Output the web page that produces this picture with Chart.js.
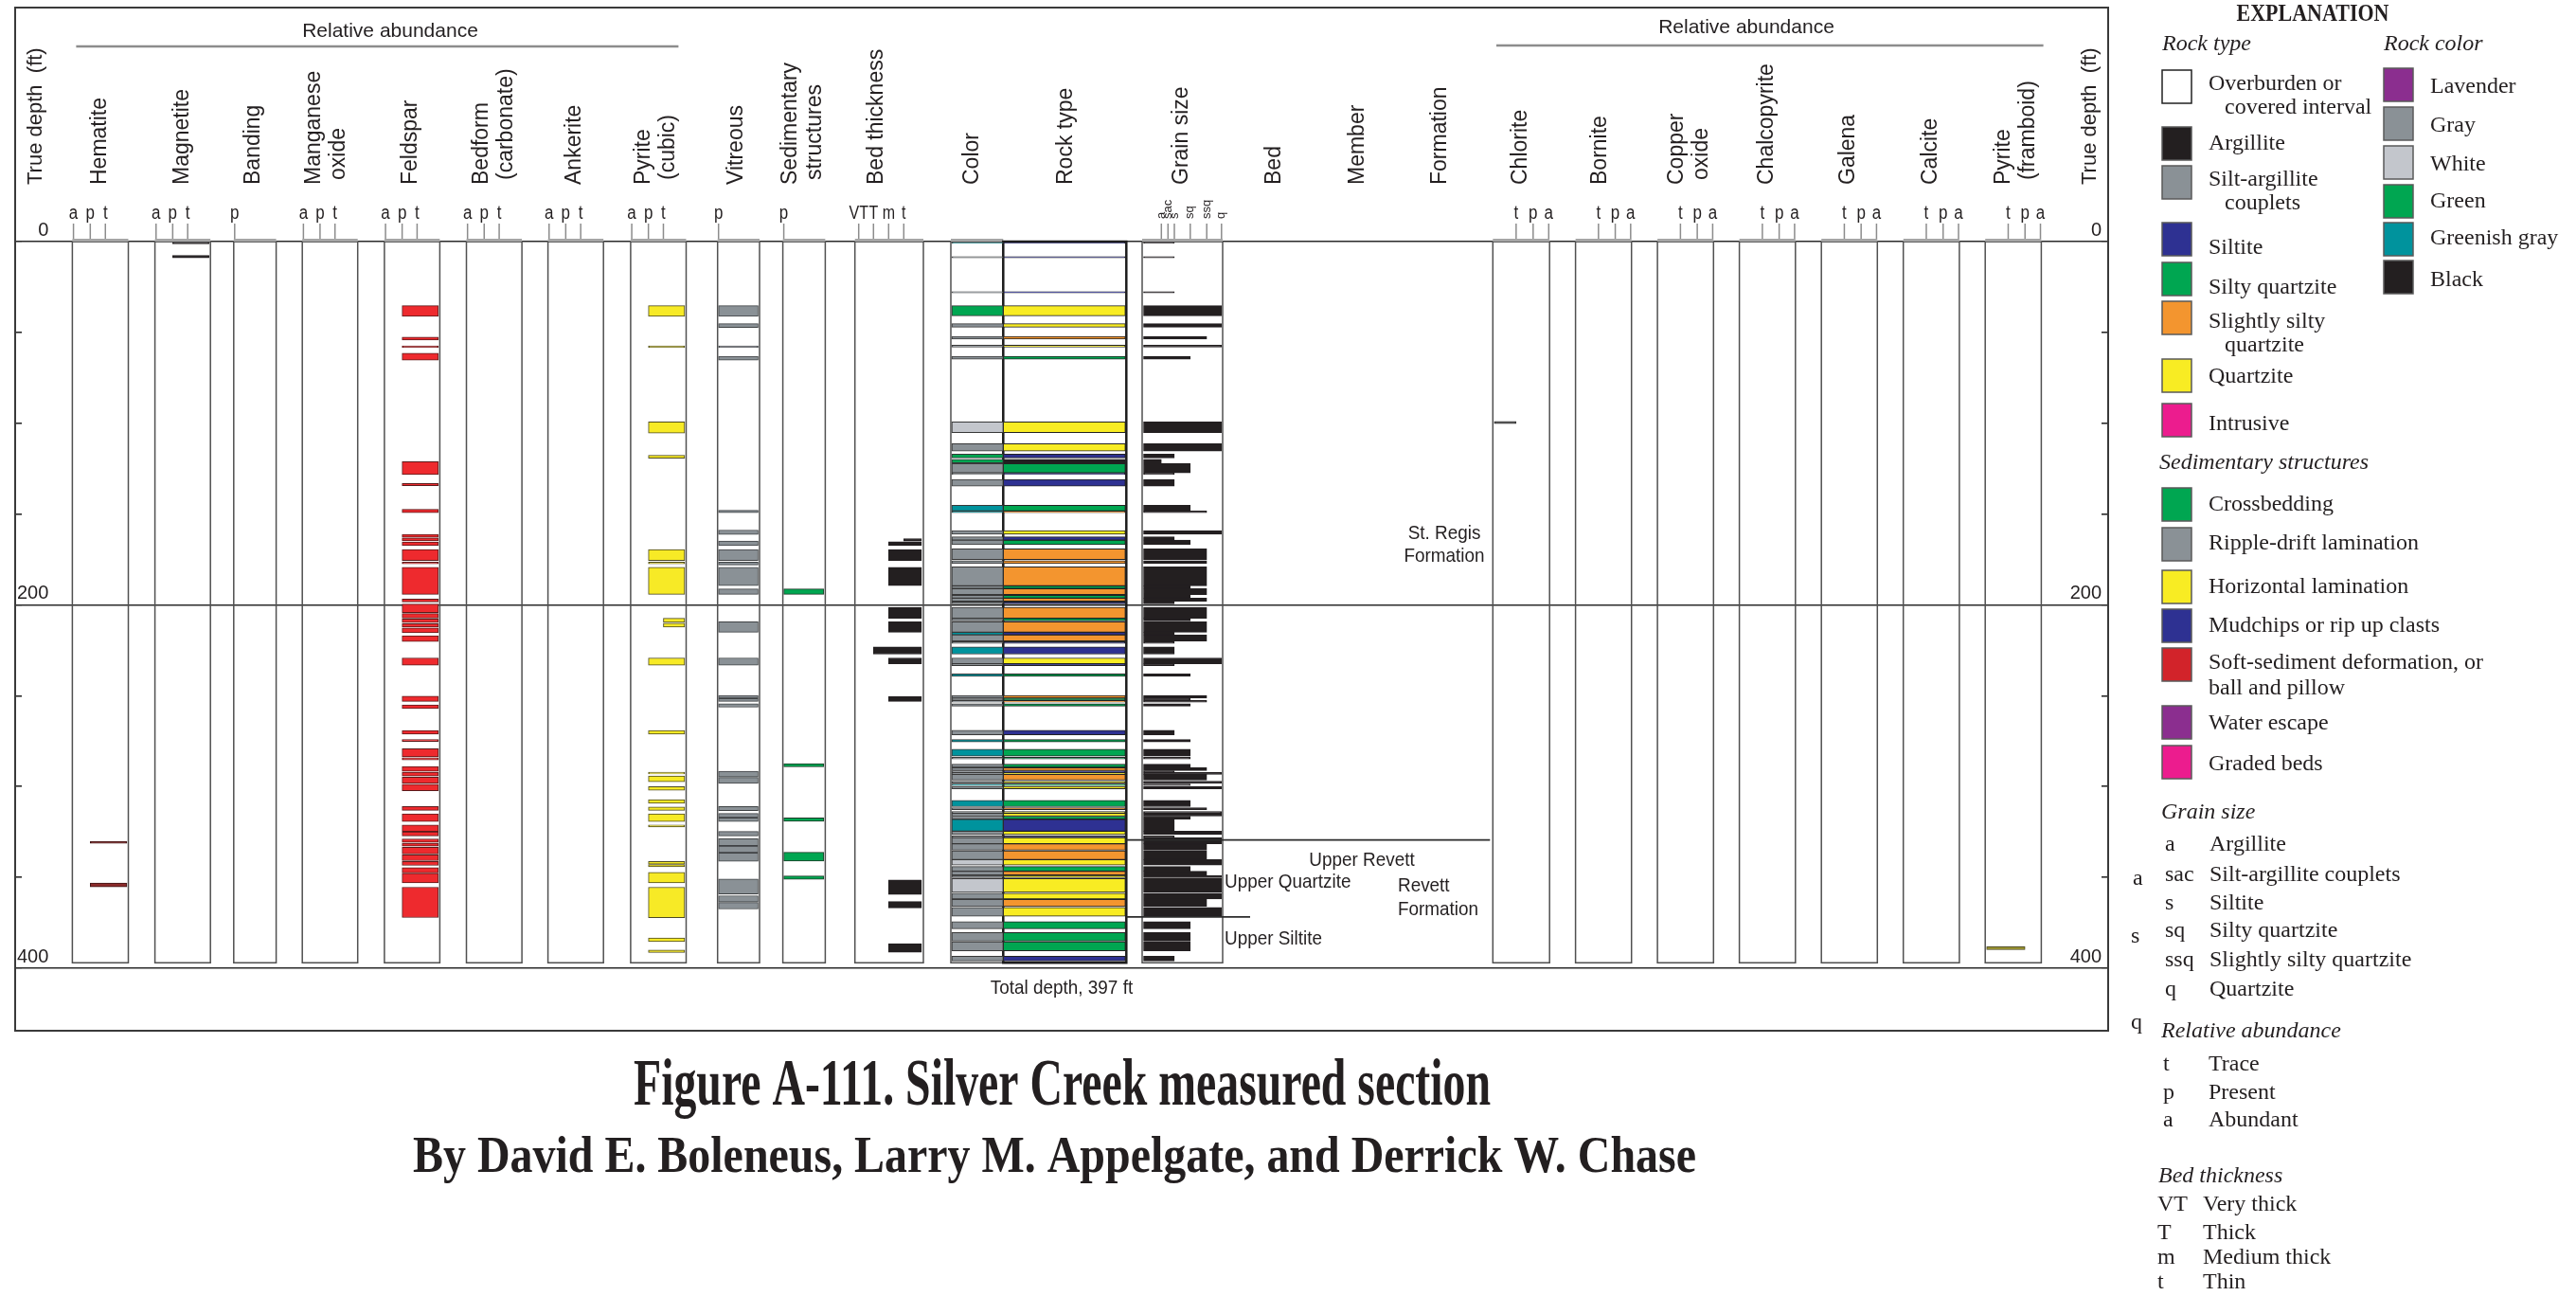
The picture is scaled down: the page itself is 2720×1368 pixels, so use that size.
<!DOCTYPE html>
<html lang="en">
<head>
<meta charset="utf-8">
<title>Figure A-111. Silver Creek measured section</title>
<script src="https://cdn.jsdelivr.net/npm/chart.js@4.4.1/dist/chart.umd.min.js"></script>
<style>
  html, body { margin: 0; background: #ffffff; }
  canvas { display: block; }
</style>
</head>
<body>
<canvas id="section" width="2720" height="1368"></canvas>
<script>
// ---------- data: depths in ft below the top of the section ----------
const depthTicks = [0, 50, 100, 150, 200, 250, 300, 350, 400];
const depthLabels = [0, 200, 400];
const totalDepth = 397;

// relative abundance intervals: [top, base, level]
const hematite = [[330.1, 331.3, 'p'], [353.1, 355.2, 'p']];
const magnetite = [[0.0, 1.3, 'p'], [7.6, 8.9, 'p']];
const feldspar = [
  [35.3, 41.2, 'p'], [52.6, 54.2, 'p'], [57.4, 58.4, 'p'], [61.4, 65.3, 'p'], [121.1, 128.3, 'p'],
  [133.1, 134.4, 'p'], [147.4, 149.3, 'p'], [161.2, 162.8, 'p'], [163.2, 164.7, 'p'], [165.3, 167.3, 'p'],
  [169.5, 175.6, 'p'], [176.4, 177.4, 'p'], [179.3, 194.2, 'p'], [196.8, 198.4, 'p'], [199.5, 204.3, 'p'],
  [204.8, 207.2, 'p'], [207.7, 209.8, 'p'], [210.3, 212.2, 'p'], [212.7, 215.4, 'p'], [217.0, 220.2, 'p'],
  [229.2, 233.2, 'p'], [250.2, 253.1, 'p'], [255.0, 257.1, 'p'], [269.1, 271.2, 'p'], [274.1, 275.2, 'p'],
  [279.2, 283.7, 'p'], [284.2, 285.3, 'p'], [289.0, 291.6, 'p'], [292.1, 294.2, 'p'], [294.8, 298.2, 'p'],
  [298.8, 302.3, 'p'], [311.0, 313.1, 'p'], [315.0, 319.3, 'p'], [321.1, 324.7, 'p'], [325.0, 327.2, 'p'],
  [328.8, 330.7, 'p'], [331.2, 332.8, 'p'], [333.4, 337.1, 'p'], [337.6, 340.8, 'p'], [341.3, 343.4, 'p'],
  [344.6, 347.5, 'p'], [347.8, 353.0, 'p'], [355.4, 372.1, 'p']
];
const pyriteCubic = [
  [35.3, 41.2, 'p'], [57.4, 58.4, 'p'], [99.3, 105.4, 'p'], [117.7, 119.3, 'p'], [169.5, 175.6, 'p'],
  [176.4, 177.4, 'p'], [179.3, 194.2, 'p'], [207.4, 209.6, 't'], [210.1, 212.2, 't'], [229.2, 233.2, 'p'],
  [269.1, 271.2, 'p'], [292.1, 293.1, 'p'], [294.2, 297.4, 'p'], [300.0, 302.1, 'p'], [307.2, 309.2, 'p'],
  [311.3, 313.1, 'p'], [315.0, 319.2, 'p'], [321.1, 322.2, 'p'], [341.3, 342.7, 'p'], [342.9, 344.2, 'p'],
  [347.3, 353.0, 'p'], [355.4, 372.2, 'p'], [383.3, 385.3, 'p'], [390.0, 391.3, 'p']
];
const vitreous = [
  [35.3, 41.2, 'p'], [45.2, 47.3, 'p'], [57.4, 58.4, 'p'], [63.2, 65.3, 'p'], [147.9, 149.3, 'p'],
  [158.8, 161.2, 'p'], [164.9, 167.3, 'p'], [169.5, 175.6, 'p'], [176.4, 178.0, 'p'], [179.3, 189.4, 'p'],
  [191.2, 194.2, 'p'], [209.3, 215.1, 'p'], [229.2, 233.2, 'p'], [249.9, 251.3, 'p'], [251.6, 253.1, 'p'],
  [254.4, 256.3, 'p'], [291.6, 294.8, 'p'], [295.0, 298.2, 'p'], [311.0, 313.2, 'p'], [314.8, 317.0, 'p'],
  [317.2, 319.2, 'p'], [324.7, 327.2, 'p'], [328.7, 332.5, 'p'], [332.8, 336.3, 'p'], [336.6, 341.2, 'p'],
  [350.9, 359.2, 'p'], [360.1, 363.6, 'p'], [363.8, 367.4, 'p']
];
const sedStructures = [[191.2, 194.2, 'p'], [287.4, 289.1, 'p'], [317.2, 319.1, 'p'], [336.2, 341.0, 'p'], [349.2, 351.1, 'p']];
const chlorite = [[99.0, 100.2, 't']];
const pyriteFramboid = [[388.2, 389.8, 'p']];

// bed thickness: [top, base, class]
const bedThickness = [
  [163.6, 164.9, 't'], [165.2, 167.3, 'm'], [169.5, 175.6, 'm'], [179.3, 189.4, 'm'], [201.3, 207.4, 'm'],
  [209.3, 215.1, 'm'], [223.1, 227.1, 'T'], [229.2, 232.4, 'm'], [250.5, 253.1, 'm'], [351.4, 359.4, 'm'],
  [363.3, 366.8, 'm'], [386.5, 391.2, 'm']
];

// described beds: color, rock type and grain size share the same intervals
const bedTop = [
  0.0, 8.2, 27.5, 35.3, 45.2, 52.2, 57.0, 63.1, 99.3, 111.3, 117.0, 119.9, 122.2, 127.4, 130.9, 145.2,
  148.3, 159.1, 162.5, 164.3, 169.1, 175.6, 179.1, 189.5, 191.0, 194.7, 196.3, 198.3, 201.3, 207.4, 209.3,
  215.1, 216.5, 220.3, 223.1, 229.2, 232.4, 238.0, 249.9, 251.3, 252.6, 254.4, 269.0, 274.1, 279.5, 283.9,
  287.7, 289.6, 291.3, 292.2, 293.3, 297.0, 298.6, 299.9, 307.6, 311.6, 313.7, 314.6, 316.3, 318.0, 324.6,
  327.2, 328.1, 331.5, 335.4, 340.2, 344.0, 346.6, 348.9, 350.6, 358.7, 362.1, 366.5, 374.3, 380.3, 385.5, 393.4
];
const bedBase = [
  0.9, 9.0, 28.2, 40.9, 47.1, 53.7, 58.1, 64.8, 105.2, 115.3, 119.1, 121.9, 127.4, 128.3, 134.7, 148.3,
  149.3, 161.1, 164.3, 166.9, 175.0, 177.3, 189.5, 191.0, 194.3, 196.3, 198.0, 199.5, 207.4, 208.8, 215.1,
  216.5, 219.9, 221.2, 227.1, 232.4, 233.5, 239.3, 251.3, 252.5, 253.6, 255.8, 271.5, 275.5, 283.3, 284.8,
  289.4, 291.2, 292.2, 293.3, 296.4, 298.1, 299.5, 301.3, 311.1, 312.8, 314.5, 316.3, 318.0, 324.6, 326.4,
  328.1, 331.5, 335.0, 340.2, 343.2, 346.6, 348.7, 350.1, 358.2, 361.9, 366.1, 371.4, 378.3, 385.1, 390.4, 396.0
];
const bedColor = [
  'gg', 'gray', 'gray', 'green', 'gray', 'gray', 'gray', 'gray', 'white', 'gray', 'green', 'green', 'gray', 'gray', 'gray', 'gg',
  'gg', 'gray', 'gray', 'gray', 'gray', 'gray', 'gray', 'gray', 'gray', 'gray', 'gray', 'gray', 'gray', 'gray', 'gray',
  'gg', 'gray', 'gray', 'gg', 'gray', 'gray', 'gg', 'gray', 'gray', 'gray', 'gray', 'gray', 'gg', 'gg', 'gray',
  'gray', 'gray', 'gray', 'gray', 'gray', 'gray', 'gg', 'gray', 'gg', 'gray', 'gray', 'gray', 'gray', 'gg', 'gray',
  'gray', 'gray', 'gray', 'gray', 'white', 'gray', 'gray', 'gray', 'white', 'gray', 'gray', 'gray', 'gray', 'gray', 'gray', 'gray'
];
const bedRock = [
  'S', 'S', 'S', 'Q', 'Q', 'SSQ', 'Q', 'SQ', 'Q', 'Q', 'S', 'A', 'SQ', 'S', 'S', 'SQ',
  'SSQ', 'Q', 'S', 'SQ', 'SSQ', 'SSQ', 'SSQ', 'SQ', 'SSQ', 'SQ', 'SSQ', 'S', 'SSQ', 'SQ', 'SSQ',
  'S', 'SSQ', 'S', 'S', 'Q', 'S', 'SQ', 'SSQ', 'SQ', 'SSQ', 'SQ', 'S', 'SQ', 'SQ', 'SQ',
  'SQ', 'SSQ', 'S', 'Q', 'SSQ', 'Q', 'SQ', 'Q', 'SQ', 'SSQ', 'Q', 'Q', 'SQ', 'S', 'Q',
  'S', 'Q', 'SSQ', 'SSQ', 'Q', 'SQ', 'SSQ', 'Q', 'Q', 'Q', 'SSQ', 'Q', 'SQ', 'SQ', 'SQ', 'S'
];
const bedGrain = [
  's', 's', 's', 'q', 'q', 'ssq', 'q', 'sq', 'q', 'q', 's', 'a', 'sq', 's', 's', 'sq',
  'ssq', 'q', 's', 'sq', 'ssq', 'ssq', 'ssq', 'sq', 'ssq', 'sq', 'ssq', 's', 'ssq', 'sq', 'ssq',
  's', 'ssq', 's', 's', 'q', 's', 'sq', 'ssq', 'sq', 'ssq', 'sq', 's', 'sq', 'sq', 'sq',
  'sq', 'ssq', 's', 'q', 'ssq', 'q', 'sq', 'q', 'sq', 'ssq', 'q', 'q', 'sq', 's', 'q',
  's', 'q', 'ssq', 'ssq', 'q', 'sq', 'ssq', 'q', 'q', 'q', 'ssq', 'q', 'sq', 'sq', 'sq', 's'
];

// member boundaries (ft): top of Upper Revett, base of Upper Quartzite
const memberBounds = [329.4, 371.8];

// explanation entries
const rockTypeKeys = ['none', 'A', 'SAC', 'S', 'SQ', 'SSQ', 'Q', 'I'];
const rockTypeNames = [['Overburden or', 'covered interval'], ['Argillite'], ['Silt-argillite', 'couplets'], ['Siltite'],
  ['Silty quartzite'], ['Slightly silty', 'quartzite'], ['Quartzite'], ['Intrusive']];
const rockColorKeys = ['lavender', 'gray', 'white', 'green', 'gg', 'black'];
const rockColorNames = ['Lavender', 'Gray', 'White', 'Green', 'Greenish gray', 'Black'];
const structureNames = [['Crossbedding'], ['Ripple-drift lamination'], ['Horizontal lamination'], ['Mudchips or rip up clasts'],
  ['Soft-sediment deformation, or', 'ball and pillow'], ['Water escape'], ['Graded beds']];
const structureFills = ['#00a651', '#8a9196', '#f8ec23', '#2e3192', '#d2232a', '#8b2e8f', '#ec1c8e'];
const grainCodes = ['a', 'sac', 's', 'sq', 'ssq', 'q'];
const grainNames = ['Argillite', 'Silt-argillite couplets', 'Siltite', 'Silty quartzite', 'Slightly silty quartzite', 'Quartzite'];
const abundanceCodes = ['t', 'p', 'a'];
const abundanceNames = ['Trace', 'Present', 'Abundant'];
const thicknessCodes = ['VT', 'T', 'm', 't'];
const thicknessNames = ['Very thick', 'Thick', 'Medium thick', 'Thin'];

// ---------- styling / layout ----------
const INK = '#231f20';
const SANS = '"Liberation Sans", Arial, Helvetica, sans-serif';
const SERIF = '"Liberation Serif", "Times New Roman", Times, serif';
const COLOR_FILL = { lavender: '#8b2e8f', gray: '#8a9196', white: '#c3c6cc', green: '#00a651', gg: '#00939d', black: '#231f20' };
const ROCK_FILL = { none: '#ffffff', A: '#231f20', SAC: '#8a9196', S: '#2e3192', SQ: '#00a651', SSQ: '#f3952f', Q: '#f8ec23', I: '#ec1c8e' };

// the x scale runs in canvas pixels, the y scale in feet
const PX_TOP = 255, PX_PER_FT = 1.9175;
const AREA = { left: 23, right: 2219, top: 30, bottom: 1060 };
const FRAME = { left: 16, top: 8, right: 2226, bottom: 1088 };

const LEFT_TRACKS = [
  { key: 'hematite', name: ['Hematite'], l: 76.4, r: 135.5, ticks: 'apt', lx: 105.6 },
  { key: 'magnetite', name: ['Magnetite'], l: 163.6, r: 222.2, ticks: 'apt', lx: 192.3 },
  { key: 'banding', name: ['Banding'], l: 246.8, r: 291.6, ticks: 'p', lx: 268 },
  { key: 'mnOxide', name: ['Manganese', 'oxide'], l: 319.2, r: 377.7, ticks: 'apt', lx: 345 },
  { key: 'feldspar', name: ['Feldspar'], l: 405.9, r: 464.4, ticks: 'apt', lx: 434 },
  { key: 'bedform', name: ['Bedform', '(carbonate)'], l: 492.5, r: 551.1, ticks: 'apt', lx: 522 },
  { key: 'ankerite', name: ['Ankerite'], l: 578.6, r: 637.2, ticks: 'apt', lx: 607 },
  { key: 'pyriteCubic', name: ['Pyrite', '(cubic)'], l: 665.9, r: 724.5, ticks: 'apt', lx: 693 },
  { key: 'vitreous', name: ['Vitreous'], l: 757.7, r: 802, ticks: 'p', lx: 778 },
  { key: 'sedStructures', name: ['Sedimentary', 'structures'], l: 826.6, r: 871.4, ticks: 'p', lx: 848 }
];
const RIGHT_TRACKS = [
  { key: 'chlorite', name: ['Chlorite'], l: 1576.3, r: 1636.2, ticks: 'tpa', lx: 1606 },
  { key: 'bornite', name: ['Bornite'], l: 1663.6, r: 1722.7, ticks: 'tpa', lx: 1690 },
  { key: 'copperOxide', name: ['Copper', 'oxide'], l: 1750.1, r: 1809.3, ticks: 'tpa', lx: 1783.5 },
  { key: 'chalcopyrite', name: ['Chalcopyrite'], l: 1836.6, r: 1895.8, ticks: 'tpa', lx: 1866 },
  { key: 'galena', name: ['Galena'], l: 1923.2, r: 1982.3, ticks: 'tpa', lx: 1952 },
  { key: 'calcite', name: ['Calcite'], l: 2009.7, r: 2068.9, ticks: 'tpa', lx: 2039 },
  { key: 'pyriteFramboid', name: ['Pyrite', '(framboid)'], l: 2096.2, r: 2155.4, ticks: 'tpa', lx: 2128.5 }
];
LEFT_TRACKS.forEach(t => { t.side = 'left'; });
RIGHT_TRACKS.forEach(t => { t.side = 'right'; });

const BED_THICK = { name: ['Bed thickness'], l: 902.7, r: 975, lx: 925.5, tick: { VT: 906.7, T: 922.3, m: 938.3, t: 954.3 } };
const COLOR_COL = { name: ['Color'], l: 1004, r: 1059.3, lx: 1027 };
const ROCK_COL = { name: ['Rock type'], l: 1059.3, r: 1189.3, lx: 1126 };
const GRAIN_COL = { name: ['Grain size'], l: 1206, r: 1291, lx: 1248,
  tick: { a: 1226.3, sac: 1233.3, s: 1240, sq: 1256.8, ssq: 1274.2, q: 1289.8 } };
const TEXT_COLS = [{ name: ['Bed'], lx: 1346 }, { name: ['Member'], lx: 1434 }, { name: ['Formation'], lx: 1521 }];

const LEFT_FRAC = { a: 0.02, p: 0.32, t: 0.59 };
const RIGHT_FRAC = { t: 0.41, p: 0.71, a: 0.985 };
function tickX(t, lvl) {
  if (t.ticks === 'p') return t.l + 1;
  const f = t.side === 'right' ? RIGHT_FRAC : LEFT_FRAC;
  return t.l + f[lvl] * (t.r - t.l);
}

// ---------- datasets ----------
const datasets = [];
function addBars(label, rows, x0, x1, fill, edge) {
  if (!rows.length) return;
  datasets.push({
    type: 'bar',
    label,
    data: rows.map(r => ({ x: (x0 + x1) / 2, y: [r[0], r[1]] })),
    barThickness: x1 - x0,
    backgroundColor: fill,
    borderColor: edge,
    borderWidth: 1,
    borderSkipped: false,
    stack: 'log',
    order: 2
  });
}
function addAbundance(key, rows, fill, edge) {
  const t = LEFT_TRACKS.concat(RIGHT_TRACKS).find(k => k.key === key);
  for (const lvl of ['a', 'p', 't']) {
    const sel = rows.filter(r => r[2] === lvl);
    const tx = tickX(t, lvl);
    if (t.side === 'left') addBars(key + ' ' + lvl, sel, tx, t.r - 1.5, fill, edge);
    else addBars(key + ' ' + lvl, sel, t.l + 1.5, tx, fill, edge);
  }
}

addAbundance('hematite', hematite, '#8c2b2b', '#3d1414');
addAbundance('magnetite', magnetite, INK, INK);
addAbundance('feldspar', feldspar, '#ee2a2e', '#5b1a1a');
addAbundance('pyriteCubic', pyriteCubic, '#f7ea26', '#4d4a22');
addAbundance('vitreous', vitreous, '#8a9196', '#3f4244');
addAbundance('sedStructures', sedStructures, '#00a651', '#1f3a28');
addAbundance('chlorite', chlorite, '#3a3a3a', '#3a3a3a');
addAbundance('pyriteFramboid', pyriteFramboid, '#a39c35', '#4d4a22');

for (const cls of ['VT', 'T', 'm', 't']) {
  addBars('bed thickness ' + cls, bedThickness.filter(r => r[2] === cls), BED_THICK.tick[cls], BED_THICK.r - 2, INK, INK);
}

const bedRows = bedTop.map((top, i) => [top, bedBase[i]]);
for (const c of Object.keys(COLOR_FILL)) {
  addBars('color ' + c, bedRows.filter((_, i) => bedColor[i] === c), COLOR_COL.l + 1, COLOR_COL.r, COLOR_FILL[c], '#383838');
}
for (const k of Object.keys(ROCK_FILL)) {
  addBars('rock ' + k, bedRows.filter((_, i) => bedRock[i] === k), ROCK_COL.l, ROCK_COL.r - 1, ROCK_FILL[k], '#222222');
}
for (const g of grainCodes) {
  addBars('grain ' + g, bedRows.filter((_, i) => bedGrain[i] === g), GRAIN_COL.l + 1.5, GRAIN_COL.tick[g], INK, INK);
}

// member boundary lines run from the rock column across the bed/member/formation columns
const boundEnds = [RIGHT_TRACKS[0].l - 3, 1320];
memberBounds.forEach((d, i) => {
  datasets.push({
    type: 'line',
    label: 'boundary ' + d,
    data: [{ x: ROCK_COL.r, y: d }, { x: boundEnds[i], y: d }],
    borderColor: '#2b2b2b',
    borderWidth: 1.8,
    pointRadius: 0,
    order: 1
  });
});

// ---------- drawing helpers ----------
function text(ctx, str, x, y, o = {}) {
  ctx.save();
  ctx.font = o.font || `22px ${SANS}`;
  ctx.fillStyle = o.color || INK;
  ctx.textAlign = o.align || 'left';
  ctx.textBaseline = o.baseline || 'alphabetic';
  ctx.translate(x, y);
  if (o.rotate) ctx.rotate(o.rotate);
  let sx = o.squeeze || 1;
  if (o.fit) sx = o.fit / ctx.measureText(str).width;
  ctx.scale(sx, 1);
  ctx.fillText(str, 0, 0);
  ctx.restore();
}
function hline(ctx, x0, x1, y, color, w) {
  ctx.save();
  ctx.strokeStyle = color; ctx.lineWidth = w;
  ctx.beginPath(); ctx.moveTo(x0, y); ctx.lineTo(x1, y); ctx.stroke();
  ctx.restore();
}
function swatch(ctx, x, y, fill, edge) {
  ctx.save();
  ctx.fillStyle = fill; ctx.fillRect(x, y, 31, 35);
  ctx.strokeStyle = edge || '#5a5a5a'; ctx.lineWidth = 1.5; ctx.strokeRect(x, y, 31, 35);
  ctx.restore();
}

// outlines of the log columns, drawn under the bars
const columnFrames = {
  id: 'columnFrames',
  beforeDatasetsDraw(chart) {
    const { ctx, scales: { x, y } } = chart;
    const y0 = y.getPixelForValue(0), y1 = y.getPixelForValue(totalDepth);
    const boxes = LEFT_TRACKS.concat(RIGHT_TRACKS, [BED_THICK, COLOR_COL, GRAIN_COL]);
    ctx.save();
    for (const b of boxes) {
      const l = x.getPixelForValue(b.l), r = x.getPixelForValue(b.r);
      ctx.strokeStyle = '#505050'; ctx.lineWidth = 1.5;
      ctx.strokeRect(l, y0, r - l, y1 - y0);
      ctx.fillStyle = '#a5a5a5'; ctx.fillRect(l, y0 - 3, r - l, 3);
    }
    const l = x.getPixelForValue(ROCK_COL.l), r = x.getPixelForValue(ROCK_COL.r);
    ctx.strokeStyle = '#1c1c1c'; ctx.lineWidth = 2.5;
    ctx.strokeRect(l, y0, r - l, y1 - y0);
    ctx.restore();
  }
};

// headings, tick letters, member names, title and explanation
const annotations = {
  id: 'annotations',
  afterDraw(chart) {
    const { ctx, scales: { x, y } } = chart;
    const px = v => x.getPixelForValue(v);
    const py = v => y.getPixelForValue(v);
    const rot = -Math.PI / 2;
    const colFont = `23px ${SANS}`;

    // outer frame
    ctx.save();
    ctx.strokeStyle = '#3a3a3a'; ctx.lineWidth = 2;
    ctx.strokeRect(FRAME.left, FRAME.top, FRAME.right - FRAME.left, FRAME.bottom - FRAME.top);
    ctx.restore();

    // relative abundance headings
    text(ctx, 'Relative abundance', px(412), 39, { font: `21px ${SANS}`, align: 'center' });
    hline(ctx, px(80.4), px(716.4), 49, '#8c8c8c', 2.5);
    text(ctx, 'Relative abundance', px(1844), 35, { font: `21px ${SANS}`, align: 'center' });
    hline(ctx, px(1580), px(2157.6), 48, '#8c8c8c', 2.5);

    // depth axis titles
    text(ctx, 'True depth  (ft)', 38, 195, { font: `22px ${SANS}`, rotate: rot, baseline: 'middle' });
    text(ctx, 'True depth  (ft)', 2207, 195, { font: `22px ${SANS}`, rotate: rot, baseline: 'middle' });

    // column names
    const named = LEFT_TRACKS.concat([BED_THICK, COLOR_COL, ROCK_COL, GRAIN_COL], TEXT_COLS, RIGHT_TRACKS);
    for (const c of named) {
      c.name.forEach((s, i) => {
        const dx = (i - (c.name.length - 1) / 2) * 26;
        text(ctx, s, px(c.lx + dx), i === 0 ? 195 : 190, { font: colFont, rotate: rot, baseline: 'middle' });
      });
    }

    // abundance tick marks and letters
    ctx.save();
    ctx.strokeStyle = '#8c8c8c'; ctx.lineWidth = 1.5;
    const tickMark = tx => { ctx.beginPath(); ctx.moveTo(px(tx), 236); ctx.lineTo(px(tx), 252); ctx.stroke(); };
    for (const t of LEFT_TRACKS.concat(RIGHT_TRACKS)) {
      for (const lvl of t.ticks.split('')) {
        const tx = tickX(t, lvl);
        tickMark(tx);
        text(ctx, lvl, px(tx), 231, { font: `20px ${SANS}`, align: 'center', squeeze: 0.85 });
      }
    }
    for (const cls of thicknessCodes) {
      const tx = BED_THICK.tick[cls];
      tickMark(tx);
      text(ctx, cls, px(tx), 231, { font: `20px ${SANS}`, align: 'center', squeeze: 0.8 });
    }
    for (const g of grainCodes) {
      const tx = GRAIN_COL.tick[g];
      tickMark(tx);
      text(ctx, g, px(tx), 231, { font: `13px ${SANS}`, rotate: rot, baseline: 'middle' });
    }
    ctx.restore();

    // formation and member names
    const cond = { font: `21px ${SANS}`, squeeze: 0.9 };
    text(ctx, 'St. Regis', px(1525), 569, Object.assign({ align: 'center' }, cond));
    text(ctx, 'Formation', px(1525), 593, Object.assign({ align: 'center' }, cond));
    text(ctx, 'Upper Revett', px(1438), 914, Object.assign({ align: 'center' }, cond));
    text(ctx, 'Upper Quartzite', px(1293), 937, cond);
    text(ctx, 'Revett', px(1476), 941, cond);
    text(ctx, 'Formation', px(1476), 966, cond);
    text(ctx, 'Upper Siltite', px(1293), 997, cond);
    text(ctx, `Total depth, ${totalDepth} ft`, px(1121), py(totalDepth) + 33, { font: `21px ${SANS}`, align: 'center', squeeze: 0.9 });

    // title block
    text(ctx, 'Figure A-111. Silver Creek measured section', 1121.5, 1166,
      { font: `bold 70px ${SERIF}`, align: 'center', fit: 905 });
    text(ctx, 'By David E. Boleneus, Larry M. Appelgate, and Derrick W. Chase', 1113.5, 1237,
      { font: `bold 54px ${SERIF}`, align: 'center', fit: 1355 });

    // explanation
    const lf = `24px ${SERIF}`, it = `italic 24px ${SERIF}`;
    text(ctx, 'EXPLANATION', 2442, 22, { font: `bold 25px ${SERIF}`, align: 'center', squeeze: 0.88 });
    text(ctx, 'Rock type', 2283, 53, { font: it });
    text(ctx, 'Rock color', 2517, 53, { font: it });

    const rtTop = [74, 134, 175, 235, 277, 318, 379, 426];
    const rtBase = [95, 158, 196, 268, 310, 346, 404, 454];
    rockTypeKeys.forEach((k, i) => {
      swatch(ctx, 2283, rtTop[i], ROCK_FILL[k], k === 'none' ? '#222' : '#5a5a5a');
      text(ctx, rockTypeNames[i][0], 2332, rtBase[i], { font: lf });
      if (rockTypeNames[i][1]) text(ctx, rockTypeNames[i][1], 2349, rtBase[i] + 25, { font: lf });
    });
    const rcTop = [72, 113, 154, 195, 235, 275];
    const rcBase = [98, 139, 180, 219, 258, 302];
    rockColorKeys.forEach((k, i) => {
      swatch(ctx, 2517, rcTop[i], COLOR_FILL[k]);
      text(ctx, rockColorNames[i], 2566, rcBase[i], { font: lf });
    });

    text(ctx, 'Sedimentary structures', 2280, 495, { font: it });
    const ssTop = [515, 557, 602, 643, 684, 745, 787];
    const ssBase = [539, 580, 626, 667, 706, 770, 813];
    structureNames.forEach((n, i) => {
      swatch(ctx, 2283, ssTop[i], structureFills[i]);
      text(ctx, n[0], 2332, ssBase[i], { font: lf });
      if (n[1]) text(ctx, n[1], 2332, ssBase[i] + 27, { font: lf });
    });

    text(ctx, 'Grain size', 2282, 864, { font: it });
    const gsBase = [898, 930, 960, 989, 1020, 1051];
    grainCodes.forEach((g, i) => {
      text(ctx, g, 2286, gsBase[i], { font: lf });
      text(ctx, grainNames[i], 2333, gsBase[i], { font: lf });
    });
    text(ctx, 'a', 2252, 934, { font: lf });
    text(ctx, 's', 2250, 995, { font: lf });
    text(ctx, 'q', 2250, 1086, { font: lf });

    text(ctx, 'Relative abundance', 2282, 1095, { font: it });
    const raBase = [1130, 1160, 1189];
    abundanceCodes.forEach((c, i) => {
      text(ctx, c, 2284, raBase[i], { font: lf });
      text(ctx, abundanceNames[i], 2332, raBase[i], { font: lf });
    });

    text(ctx, 'Bed thickness', 2279, 1248, { font: it });
    const btBase = [1278, 1308, 1334, 1360];
    thicknessCodes.forEach((c, i) => {
      text(ctx, c, 2278, btBase[i], { font: lf });
      text(ctx, thicknessNames[i], 2326, btBase[i], { font: lf });
    });
  }
};

// ---------- depth axes ----------
function depthAxis(pos) {
  return {
    type: 'linear',
    position: pos,
    reverse: true,
    stacked: false,
    min: (AREA.top - PX_TOP) / PX_PER_FT,
    max: (AREA.bottom - PX_TOP) / PX_PER_FT,
    afterBuildTicks: s => { s.ticks = depthTicks.map(v => ({ value: v })); },
    afterFit: s => { s.width = 7; s.paddingTop = 0; s.paddingBottom = 0; },
    border: { display: false },
    grid: {
      drawOnChartArea: pos === 'left',
      color: c => (c.tick && depthLabels.includes(c.tick.value)) ? '#2b2b2b' : 'rgba(0,0,0,0)',
      tickColor: '#2b2b2b',
      tickLength: 7,
      lineWidth: 1.6,
      tickWidth: 1.6
    },
    ticks: {
      mirror: true,
      crossAlign: pos === 'left' ? 'far' : 'near',
      padding: pos === 'left' ? -5 : 0,
      labelOffset: -12,
      autoSkip: false,
      color: INK,
      font: { family: SANS, size: 20 },
      callback: v => depthLabels.includes(v) ? String(v) : ''
    }
  };
}

new Chart(document.getElementById('section'), {
  type: 'bar',
  data: { datasets },
  options: {
    responsive: false,
    animation: false,
    devicePixelRatio: 1,
    events: [],
    layout: { padding: { left: AREA.left - 7, right: 2720 - AREA.right - 7, top: AREA.top, bottom: 1368 - AREA.bottom } },
    plugins: { legend: { display: false }, tooltip: { enabled: false } },
    scales: {
      x: { type: 'linear', min: AREA.left, max: AREA.right, display: false, offset: false },
      y: depthAxis('left'),
      y2: depthAxis('right')
    }
  },
  plugins: [columnFrames, annotations]
});
</script>
</body>
</html>
